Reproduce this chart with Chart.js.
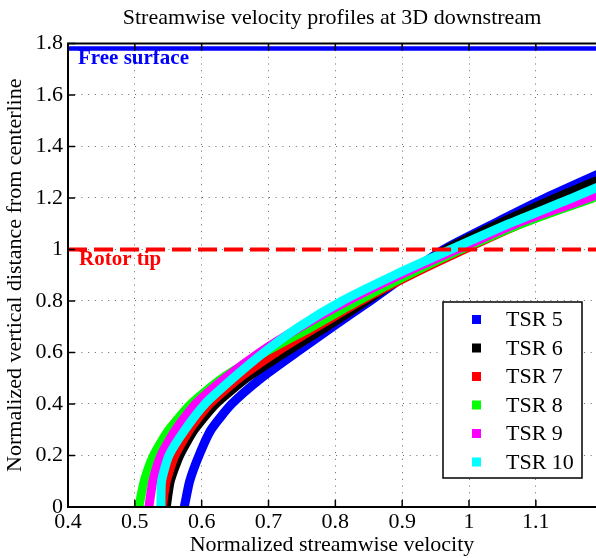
<!DOCTYPE html>
<html>
<head>
<meta charset="utf-8">
<script src="https://cdn.jsdelivr.net/npm/chart.js@4.4.1/dist/chart.umd.min.js"></script>
<style>
  html, body { margin: 0; padding: 0; background: #fff; }
</style>
</head>
<body>
<canvas id="chart" width="596" height="558"></canvas>
<script>
// vertical positions (normalized by rotor radius) where the profiles were read
const heights = [0, 0.1, 0.2, 0.3, 0.4, 0.5, 0.6, 0.7, 0.8, 0.9, 1.0, 1.1, 1.2, 1.3];

// normalized streamwise velocity at each height
const tsr5  = [0.574, 0.582, 0.596, 0.614, 0.645, 0.689, 0.742, 0.796, 0.852, 0.906, 0.962, 1.037, 1.115, 1.200];
const tsr6  = [0.547, 0.553, 0.567, 0.589, 0.621, 0.667, 0.725, 0.787, 0.846, 0.905, 0.966, 1.045, 1.130, 1.222];
const tsr7  = [0.541, 0.547, 0.560, 0.582, 0.612, 0.656, 0.711, 0.773, 0.838, 0.912, 0.993, 1.078, 1.180, 1.280];
const tsr8  = [0.506, 0.514, 0.528, 0.551, 0.584, 0.631, 0.694, 0.765, 0.833, 0.907, 0.988, 1.078, 1.185, 1.285];
const tsr9  = [0.521, 0.527, 0.539, 0.561, 0.591, 0.635, 0.687, 0.749, 0.818, 0.896, 0.982, 1.070, 1.178, 1.275];
const tsr10 = [0.539, 0.540, 0.551, 0.575, 0.605, 0.647, 0.693, 0.746, 0.810, 0.888, 0.973, 1.060, 1.155, 1.245];

const seriesNames = ['TSR 5', 'TSR 6', 'TSR 7', 'TSR 8', 'TSR 9', 'TSR 10'];
const seriesColors = ['#0000ff', '#000000', '#ff0000', '#00ff00', '#ff00ff', '#00ffff'];

const xTicks = [0.4, 0.5, 0.6, 0.7, 0.8, 0.9, 1.0, 1.1];
const yTicks = [0, 0.2, 0.4, 0.6, 0.8, 1.0, 1.2, 1.4, 1.6, 1.8];
const xRange = [0.4, 1.19];
const yRange = [0, 1.8];

const freeSurface = 1.78;
const rotorTip = 1.0;

const profiles = [tsr5, tsr6, tsr7, tsr8, tsr9, tsr10];
const serif = '"Liberation Serif", "Times New Roman", serif';

const datasets = profiles.map((vals, i) => ({
    label: seriesNames[i],
    data: vals.map((v, k) => ({ x: v, y: heights[k] })),
    borderColor: seriesColors[i],
    backgroundColor: seriesColors[i],
    borderWidth: 9,
    showLine: true,
    pointRadius: 0,
    tension: 0.2,
    order: profiles.length - i + 1
}));

datasets.push({
    label: 'Free surface',
    data: [{ x: xRange[0], y: freeSurface }, { x: xRange[1], y: freeSurface }],
    borderColor: '#0000ff',
    borderWidth: 4.5,
    showLine: true,
    pointRadius: 0,
    order: 0
});
datasets.push({
    label: 'Rotor tip',
    data: [{ x: xRange[0], y: rotorTip }, { x: xRange[1], y: rotorTip }],
    borderColor: '#ff0000',
    borderWidth: 4,
    borderDash: [19, 7],
    showLine: true,
    pointRadius: 0,
    order: 1
});

// frame, inward tick marks, line labels and the boxed legend
const decorations = {
    id: 'decorations',
    afterDatasetsDraw(chart) {
        const { ctx, chartArea: a, scales: { x, y } } = chart;
        ctx.save();

        ctx.font = 'bold 21px ' + serif;
        ctx.textBaseline = 'alphabetic';
        ctx.fillStyle = '#0000ff';
        ctx.fillText('Free surface', a.left + 10, y.getPixelForValue(freeSurface) + 15);
        ctx.fillStyle = '#ff0000';
        ctx.fillText('Rotor tip', a.left + 11, y.getPixelForValue(rotorTip) + 16);

        ctx.strokeStyle = '#000';
        ctx.lineWidth = 2;
        ctx.beginPath();
        ctx.moveTo(a.right + 2, a.top);
        ctx.lineTo(a.left, a.top);
        ctx.lineTo(a.left, a.bottom);
        ctx.lineTo(a.right + 2, a.bottom);
        ctx.stroke();

        ctx.lineWidth = 1.5;
        ctx.beginPath();
        xTicks.forEach(t => {
            const px = x.getPixelForValue(t);
            ctx.moveTo(px, a.bottom);
            ctx.lineTo(px, a.bottom - 7);
            ctx.moveTo(px, a.top);
            ctx.lineTo(px, a.top + 7);
        });
        yTicks.forEach(t => {
            const py = y.getPixelForValue(t);
            ctx.moveTo(a.left, py);
            ctx.lineTo(a.left + 7, py);
        });
        ctx.stroke();

        // legend
        const bx = 443, by = 302, bw = 139, bh = 176;
        ctx.fillStyle = '#fff';
        ctx.fillRect(bx, by, bw, bh);
        ctx.lineWidth = 1.5;
        ctx.strokeRect(bx, by, bw, bh);
        ctx.font = '22px ' + serif;
        ctx.textBaseline = 'middle';
        seriesNames.forEach((name, i) => {
            const cy = by + 17.5 + i * 28.5;
            ctx.fillStyle = seriesColors[i];
            ctx.fillRect(bx + 29, cy - 4.5, 9, 9);
            ctx.fillStyle = '#000';
            ctx.fillText(name, bx + 63, cy + 1);
        });

        ctx.restore();
    }
};

new Chart(document.getElementById('chart'), {
    type: 'scatter',
    data: { datasets },
    options: {
        responsive: false,
        animation: false,
        layout: { padding: 0 },
        plugins: {
            legend: { display: false },
            tooltip: { enabled: false },
            title: {
                display: true,
                fullSize: false,
                text: 'Streamwise velocity profiles at 3D downstream',
                color: '#000',
                font: { family: serif, size: 22, weight: 'normal' },
                padding: { top: 5, bottom: 12 }
            }
        },
        scales: {
            x: {
                type: 'linear',
                min: xRange[0],
                max: xRange[1],
                afterBuildTicks: s => { s.ticks = xTicks.map(v => ({ value: v })); },
                afterFit: s => { s.height = 51; },
                ticks: {
                    color: '#000',
                    padding: 2,
                    maxRotation: 0,
                    font: { family: serif, size: 22 },
                    callback: v => String(Math.round(v * 10) / 10)
                },
                grid: { color: '#666', lineWidth: 1, drawTicks: false },
                border: { display: false, dash: [1, 5.7] },
                title: {
                    display: true,
                    text: 'Normalized streamwise velocity',
                    color: '#000',
                    font: { family: serif, size: 22 },
                    padding: { top: 0, bottom: 0 }
                }
            },
            y: {
                type: 'linear',
                min: yRange[0],
                max: yRange[1],
                afterBuildTicks: s => { s.ticks = yTicks.map(v => ({ value: v })); },
                afterFit: s => { s.width = 68; },
                ticks: {
                    color: '#000',
                    padding: 5,
                    font: { family: serif, size: 22 },
                    callback: v => String(Math.round(v * 10) / 10)
                },
                grid: { color: '#666', lineWidth: 1, drawTicks: false },
                border: { display: false, dash: [1, 5.7] },
                title: {
                    display: true,
                    text: 'Normalized vertical distance from centerline',
                    color: '#000',
                    font: { family: serif, size: 22 },
                    padding: { top: 2, bottom: 0 }
                }
            }
        }
    },
    plugins: [decorations]
});
</script>
</body>
</html>
